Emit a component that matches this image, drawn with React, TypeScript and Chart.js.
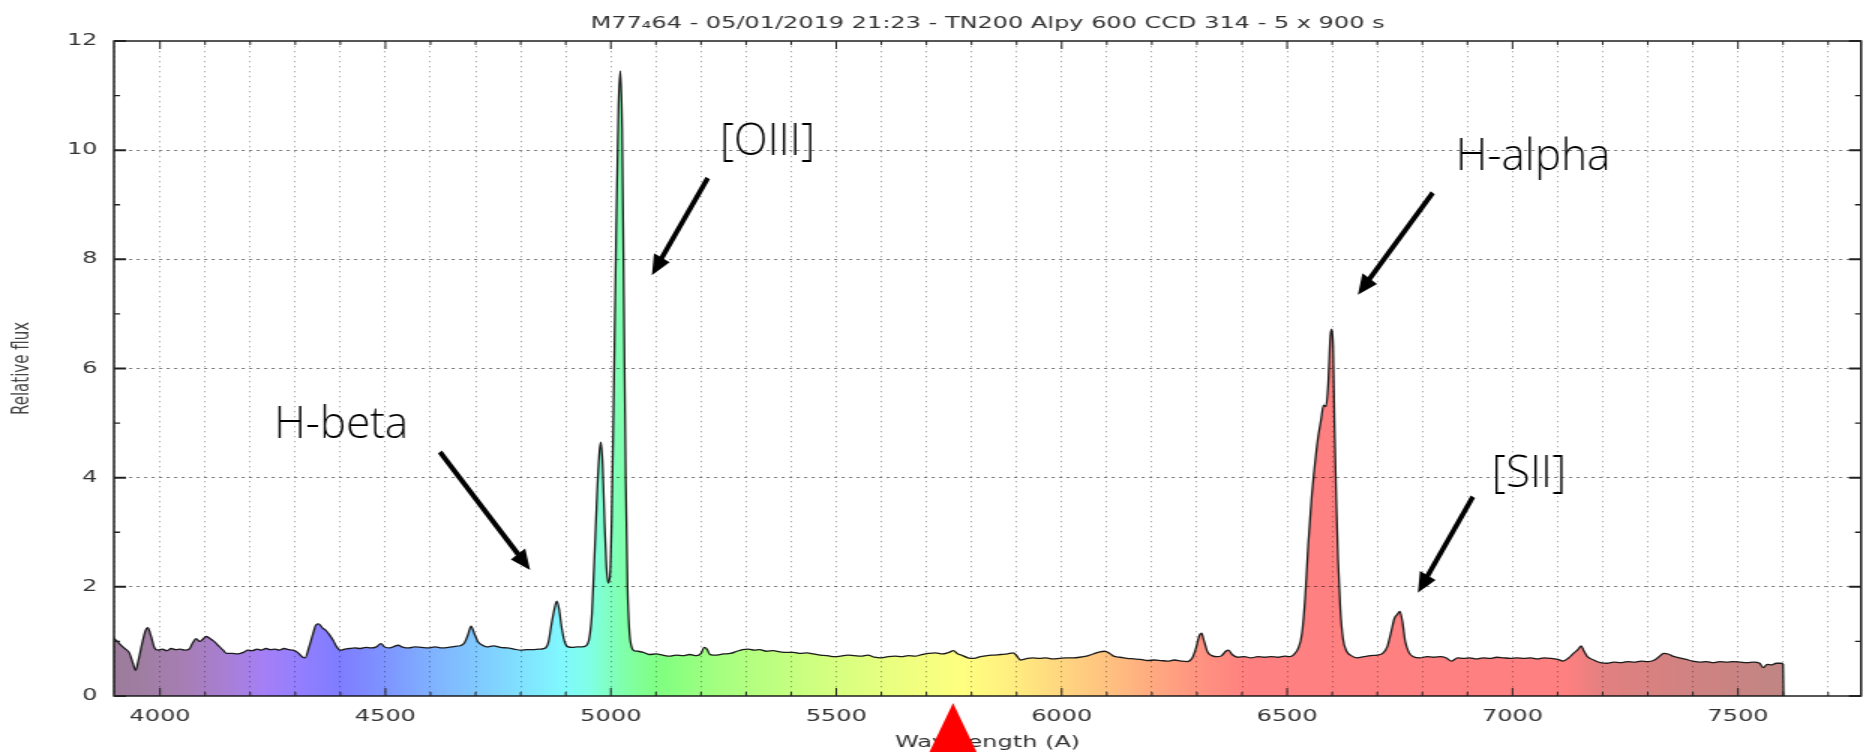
import React, { useEffect, useRef } from 'react';
import { Chart, registerables } from 'chart.js';

Chart.register(...registerables);

// ---------- text ----------
const TITLE = 'M77\u208464 - 05/01/2019 21:23 - TN200 Alpy 600 CCD 314 - 5 x 900 s';
const X_TITLE = 'Wavelength (A)';
const Y_TITLE = 'Relative flux';

// ---------- axes ----------
const X_MIN = 3898;
const X_MAX = 7773;
const X_STEP = 100;
const X_LABEL_EVERY = 500;
const Y_MIN = 0;
const Y_MAX = 12;
const Y_STEP = 1;
const Y_LABEL_EVERY = 2;

// ---------- spectrum ----------
const wavelengths = [
  3895, 3905, 3915, 3925, 3932, 3940, 3946, 3952, 3960, 3968, 3973, 3980, 3988, 3995,
  4005, 4015, 4025, 4035, 4045, 4055, 4065, 4073, 4080, 4088, 4095, 4102, 4110, 4120, 4130, 4140, 4148,
  4160, 4172, 4185, 4195, 4205, 4215, 4225, 4235, 4245, 4255, 4265, 4275, 4285, 4295, 4305, 4315, 4322,
  4330, 4338, 4346, 4352, 4360, 4368, 4376, 4384, 4392, 4400, 4410, 4420, 4432, 4445, 4457, 4468, 4480,
  4490, 4498, 4510, 4520, 4528, 4540, 4552, 4565, 4580, 4595, 4610, 4625, 4640, 4655, 4665, 4675, 4683,
  4690, 4697, 4705, 4715, 4725, 4740, 4755, 4770, 4785, 4800, 4815, 4830, 4845, 4855, 4862, 4868, 4875,
  4880, 4885, 4891, 4898, 4905, 4915, 4925, 4935, 4945, 4952, 4958, 4964, 4970, 4975, 4978, 4982, 4986,
  4990, 4994, 4998, 5002, 5007, 5012, 5017, 5021, 5025, 5029, 5033, 5037, 5041, 5046, 5052, 5060, 5072,
  5085, 5100, 5115, 5130, 5145, 5160, 5175, 5190, 5200, 5207, 5213, 5220, 5235, 5250, 5265, 5280, 5292,
  5305, 5318, 5330, 5345, 5360, 5375, 5390, 5405, 5420, 5435, 5450, 5465, 5480, 5495, 5510, 5525, 5540,
  5555, 5570, 5585, 5600, 5615, 5630, 5645, 5660, 5675, 5690, 5705, 5720, 5735, 5750, 5760, 5768, 5780,
  5792, 5805, 5820, 5835, 5850, 5865, 5880, 5892, 5900, 5908, 5920, 5935, 5950, 5965, 5980, 5995, 6010,
  6025, 6040, 6055, 6070, 6085, 6095, 6105, 6115, 6130, 6145, 6160, 6175, 6190, 6205, 6220, 6235, 6250,
  6265, 6278, 6290, 6298, 6305, 6310, 6316, 6324, 6333, 6345, 6355, 6364, 6370, 6378, 6390, 6405, 6420,
  6435, 6450, 6465, 6480, 6495, 6505, 6515, 6525, 6533, 6540, 6547, 6554, 6561, 6568, 6575, 6581, 6586,
  6591, 6596, 6599, 6602, 6605, 6609, 6613, 6618, 6624, 6632, 6642, 6655, 6670, 6685, 6700, 6712, 6722,
  6730, 6738, 6745, 6750, 6756, 6762, 6770, 6780, 6795, 6810, 6825, 6840, 6852, 6865, 6878, 6892, 6905,
  6920, 6935, 6950, 6965, 6980, 6995, 7010, 7025, 7040, 7055, 7070, 7085, 7100, 7112, 7125, 7135, 7145,
  7152, 7158, 7166, 7180, 7195, 7210, 7225, 7240, 7255, 7270, 7285, 7300, 7315, 7325, 7335, 7345, 7355,
  7370, 7385, 7400, 7415, 7430, 7445, 7460, 7475, 7490, 7505, 7520, 7535, 7548, 7556, 7565, 7575, 7585,
  7595, 7600, 7601,
];

const flux = [
  1.08, 1.0, 0.92, 0.85, 0.79, 0.6, 0.47, 0.65, 0.95, 1.2, 1.25, 1.1, 0.88, 0.84,
  0.86, 0.83, 0.87, 0.85, 0.86, 0.84, 0.86, 0.98, 1.05, 1.0, 1.04, 1.09, 1.06, 1.0, 0.92, 0.84, 0.78,
  0.78, 0.77, 0.8, 0.84, 0.83, 0.86, 0.84, 0.87, 0.85, 0.86, 0.84, 0.87, 0.85, 0.84, 0.8, 0.72, 0.7,
  0.88, 1.1, 1.3, 1.32, 1.25, 1.2, 1.12, 1.02, 0.9, 0.84, 0.86, 0.87, 0.88, 0.87, 0.89, 0.88, 0.9,
  0.96, 0.9, 0.88, 0.91, 0.93, 0.89, 0.88, 0.9, 0.89, 0.88, 0.9, 0.88, 0.89, 0.91, 0.92, 0.97, 1.12,
  1.28, 1.15, 1.0, 0.93, 0.9, 0.92, 0.89, 0.88, 0.86, 0.84, 0.85, 0.85, 0.86, 0.88, 1.0, 1.3, 1.6,
  1.74, 1.6, 1.25, 0.98, 0.9, 0.89, 0.9, 0.9, 0.92, 1.05, 1.5, 2.6, 3.8, 4.5, 4.65, 4.2, 3.2,
  2.4, 2.07, 2.2, 3.3, 5.8, 8.6, 10.8, 11.45, 10.4, 7.2, 4.0, 2.0, 1.2, 0.9, 0.83, 0.82, 0.8,
  0.76, 0.77, 0.75, 0.73, 0.75, 0.74, 0.76, 0.74, 0.78, 0.89, 0.86, 0.76, 0.75, 0.77, 0.78, 0.82, 0.85,
  0.86, 0.84, 0.85, 0.82, 0.83, 0.81, 0.8, 0.8, 0.78, 0.79, 0.77, 0.75, 0.74, 0.72, 0.73, 0.75, 0.74,
  0.73, 0.75, 0.71, 0.7, 0.72, 0.73, 0.72, 0.74, 0.73, 0.76, 0.78, 0.79, 0.77, 0.8, 0.83, 0.78, 0.74,
  0.7, 0.69, 0.72, 0.74, 0.75, 0.76, 0.77, 0.79, 0.74, 0.66, 0.68, 0.7, 0.69, 0.7, 0.68, 0.69, 0.7,
  0.7, 0.71, 0.73, 0.77, 0.81, 0.82, 0.79, 0.73, 0.71, 0.69, 0.68, 0.67, 0.65, 0.66, 0.65, 0.64, 0.66,
  0.64, 0.63, 0.7, 0.88, 1.1, 1.15, 1.0, 0.8, 0.74, 0.72, 0.74, 0.82, 0.84, 0.76, 0.71, 0.72, 0.7,
  0.72, 0.71, 0.72, 0.71, 0.73, 0.72, 0.76, 0.88, 1.15, 1.8, 2.8, 3.6, 4.2, 4.7, 5.05, 5.33, 5.3,
  5.7, 6.6, 6.72, 6.4, 5.0, 3.6, 2.5, 1.6, 1.05, 0.82, 0.74, 0.7, 0.72, 0.74, 0.75, 0.78, 0.9,
  1.15, 1.42, 1.5, 1.55, 1.35, 1.0, 0.8, 0.72, 0.7, 0.72, 0.71, 0.72, 0.7, 0.64, 0.7, 0.69, 0.7,
  0.68, 0.7, 0.69, 0.71, 0.7, 0.69, 0.7, 0.69, 0.7, 0.68, 0.7, 0.69, 0.67, 0.64, 0.7, 0.78, 0.85,
  0.92, 0.83, 0.72, 0.66, 0.61, 0.6, 0.62, 0.61, 0.63, 0.62, 0.64, 0.63, 0.66, 0.72, 0.78, 0.77, 0.73,
  0.7, 0.67, 0.64, 0.62, 0.63, 0.61, 0.63, 0.62, 0.63, 0.62, 0.61, 0.62, 0.6, 0.52, 0.58, 0.57, 0.6,
  0.6, 0.58, 0,
];

// ---------- fill colours along wavelength ----------
const gradWavelengths = [
  3898, 3960, 4060, 4150, 4230, 4310, 4400, 4500, 4620, 4720, 4820, 4890, 4950, 5010, 5060, 5110,
  5250, 5450, 5650, 5780, 5880, 5990, 6100, 6210, 6320, 6420, 7120, 7200, 7380, 7600, 7773,
];
const gradColors = [
  '#9c7b9c', '#a07ea2', '#a77eb6', '#a87fd6', '#a57ff6', '#937fff', '#7f7dff', '#7e95ff', '#80b6ff',
  '#80cdff', '#80e6ff', '#80f8ff', '#80ffe8', '#80ffb8', '#80ff98', '#80ff80', '#a8ff80', '#cfff80',
  '#eeff80', '#ffff80', '#fff080', '#ffd880', '#ffc280', '#ffa880', '#ff9080', '#ff8080', '#ff8080',
  '#e38080', '#d28282', '#c08683', '#bd8684',
];

// ---------- annotations (data coordinates) ----------
const annotationTexts = ['H-beta', '[OIII]', 'H-alpha', '[SII]'];
const annotationTextWl = [4253, 5242, 6874, 6954];
const annotationTextFlux = [4.73, 9.91, 9.64, 3.83];
const arrowFromWl = [4621, 5215, 6823, 6912];
const arrowFromFlux = [4.47, 9.49, 9.22, 3.65];
const arrowToWl = [4821, 5091, 6657, 6790];
const arrowToFlux = [2.31, 7.71, 7.35, 1.89];
const markerWl = 5759;

// ---------- page geometry ----------
const PAGE_W = 1863;
const PAGE_H = 752;
const CANVAS_W = 1242;
const SX = PAGE_W / CANVAS_W;

const decorPlugin = {
  id: 'decor',
  afterDraw(chart: any) {
    const { ctx, chartArea: a, scales } = chart;
    const xs = scales.x;
    const ys = scales.y;
    ctx.save();
    ctx.setLineDash([]);
    // frame
    ctx.strokeStyle = '#111';
    ctx.lineWidth = 1.4;
    ctx.strokeRect(a.left, a.top, a.right - a.left, a.bottom - a.top);
    // inward ticks on x
    ctx.lineWidth = 1;
    ctx.strokeStyle = '#222';
    xs.ticks.forEach((t: any) => {
      const x = xs.getPixelForValue(t.value);
      if (x <= a.left + 1 || x >= a.right - 1) return;
      const len = t.value % X_LABEL_EVERY === 0 ? 8 : 4;
      ctx.beginPath();
      ctx.moveTo(x, a.bottom);
      ctx.lineTo(x, a.bottom - len);
      ctx.moveTo(x, a.top);
      ctx.lineTo(x, a.top + len);
      ctx.stroke();
    });
    // inward ticks on y
    ys.ticks.forEach((t: any) => {
      const y = ys.getPixelForValue(t.value);
      const len = t.value % Y_LABEL_EVERY === 0 ? 8 : 4;
      ctx.lineWidth = t.value % Y_LABEL_EVERY === 0 ? 2 : 1.3;
      ctx.beginPath();
      ctx.moveTo(a.left, y);
      ctx.lineTo(a.left + len, y);
      ctx.moveTo(a.right, y);
      ctx.lineTo(a.right - len, y);
      ctx.stroke();
    });
    // title
    ctx.fillStyle = '#333';
    ctx.font = '16px "DejaVu Sans"';
    ctx.textAlign = 'center';
    ctx.textBaseline = 'alphabetic';
    ctx.fillText(TITLE, (a.left + a.right) / 2, 28);

    // annotations in page pixels (undo the horizontal stretch)
    ctx.scale(1 / SX, 1);
    ctx.fillStyle = '#000';
    ctx.strokeStyle = '#000';
    ctx.font = '300 44px "Open Sans"';
    ctx.textAlign = 'left';
    annotationTexts.forEach((txt, i) => {
      const tx = xs.getPixelForValue(annotationTextWl[i]) * SX;
      const ty = ys.getPixelForValue(annotationTextFlux[i]);
      ctx.fillText(txt, tx, ty);
      const x0 = xs.getPixelForValue(arrowFromWl[i]) * SX;
      const y0 = ys.getPixelForValue(arrowFromFlux[i]);
      const x1 = xs.getPixelForValue(arrowToWl[i]) * SX;
      const y1 = ys.getPixelForValue(arrowToFlux[i]);
      const ang = Math.atan2(y1 - y0, x1 - x0);
      const head = 20;
      const hw = 9;
      const bx = x1 - Math.cos(ang) * head;
      const by = y1 - Math.sin(ang) * head;
      ctx.lineWidth = 5;
      ctx.lineCap = 'butt';
      ctx.beginPath();
      ctx.moveTo(x0, y0);
      ctx.lineTo(bx + Math.cos(ang) * 2, by + Math.sin(ang) * 2);
      ctx.stroke();
      ctx.beginPath();
      ctx.moveTo(x1, y1);
      ctx.lineTo(bx + Math.sin(ang) * hw, by - Math.cos(ang) * hw);
      ctx.lineTo(bx - Math.sin(ang) * hw, by + Math.cos(ang) * hw);
      ctx.closePath();
      ctx.fill();
    });
    // red marker below the axis
    const mx = xs.getPixelForValue(markerWl) * SX;
    const my = a.bottom + 7;
    ctx.fillStyle = '#ff0000';
    ctx.beginPath();
    ctx.moveTo(mx, my);
    ctx.lineTo(mx + 25, my + 52);
    ctx.lineTo(mx - 25, my + 52);
    ctx.closePath();
    ctx.fill();
    ctx.restore();
  },
};

function spectrumGradient(chart: any) {
  const { ctx, chartArea, scales } = chart;
  if (!chartArea || !scales.x) return 'rgba(0,0,0,0)';
  const xs = scales.x;
  const g = ctx.createLinearGradient(chartArea.left, 0, chartArea.right, 0);
  const w = chartArea.right - chartArea.left;
  gradWavelengths.forEach((wl, i) => {
    const off = (xs.getPixelForValue(wl) - chartArea.left) / w;
    g.addColorStop(Math.min(1, Math.max(0, off)), gradColors[i]);
  });
  return g;
}

export default function App() {
  const canvasRef = useRef<HTMLCanvasElement | null>(null);

  useEffect(() => {
    const canvas = canvasRef.current;
    if (!canvas) return;
    const points = wavelengths.map((w, i) => ({ x: w, y: flux[i] }));
    const chart = new Chart(canvas, {
      type: 'line',
      data: {
        datasets: [
          {
            data: points,
            borderColor: '#1c1c1c',
            borderWidth: 1.3,
            pointRadius: 0,
            fill: 'origin',
            cubicInterpolationMode: 'monotone',
            backgroundColor: (c: any) => spectrumGradient(c.chart),
          },
        ],
      },
      options: {
        animation: false,
        responsive: false,
        devicePixelRatio: 1,
        events: [],
        layout: { padding: { top: 41, right: 1.3, left: 0, bottom: 0 } },
        plugins: { legend: { display: false }, title: { display: false }, tooltip: { enabled: false } },
        scales: {
          x: {
            type: 'linear',
            min: X_MIN,
            max: X_MAX,
            afterFit: (s: any) => { s.height = 56; },
            border: { display: false, dash: [1.3, 3.7] },
            grid: {
              z: 1,
              drawTicks: false,
              color: 'rgba(0,0,0,0.45)',
              lineWidth: 0.75,
            },
            ticks: {
              stepSize: X_STEP,
              includeBounds: false,
              autoSkip: false,
              maxRotation: 0,
              padding: 11,
              color: '#333',
              font: { family: 'DejaVu Sans', size: 16 },
              callback: (v: any) => (Number(v) % X_LABEL_EVERY === 0 ? String(v) : ''),
            },
            title: {
              display: true,
              text: X_TITLE,
              color: '#333',
              font: { family: 'DejaVu Sans', size: 16 },
              padding: { top: 1.4, bottom: 0 },
            },
          },
          y: {
            min: Y_MIN,
            max: Y_MAX,
            afterFit: (s: any) => { s.width = 76; },
            border: { display: false, dash: [2.2, 2.8] },
            grid: {
              z: 1,
              drawTicks: false,
              lineWidth: 1,
              color: (c: any) => {
                const v = c.tick ? c.tick.value : 0;
                return v % Y_LABEL_EVERY === 0 && v !== Y_MIN && v !== Y_MAX ? 'rgba(0,0,0,0.5)' : 'rgba(0,0,0,0)';
              },
            },
            ticks: {
              stepSize: Y_STEP,
              padding: 11,
              color: '#333',
              font: { family: 'DejaVu Sans', size: 16 },
              callback: (v: any) => (Number(v) % Y_LABEL_EVERY === 0 ? String(v) : ''),
            },
            title: {
              display: true,
              text: Y_TITLE,
              color: '#444',
              font: { family: 'DejaVu Sans', size: 15 },
              padding: { top: 5.7, bottom: 0 },
            },
          },
        },
      },
      plugins: [decorPlugin],
    } as any);
    return () => chart.destroy();
  }, []);

  return (
    <div
      style={{
        position: 'absolute',
        left: 0,
        top: 0,
        width: PAGE_W,
        height: PAGE_H,
        overflow: 'hidden',
        background: '#fff',
      }}
    >
      <canvas
        ref={canvasRef}
        width={CANVAS_W}
        height={PAGE_H}
        style={{ display: 'block', width: PAGE_W + 'px', height: PAGE_H + 'px' }}
      />
    </div>
  );
}
